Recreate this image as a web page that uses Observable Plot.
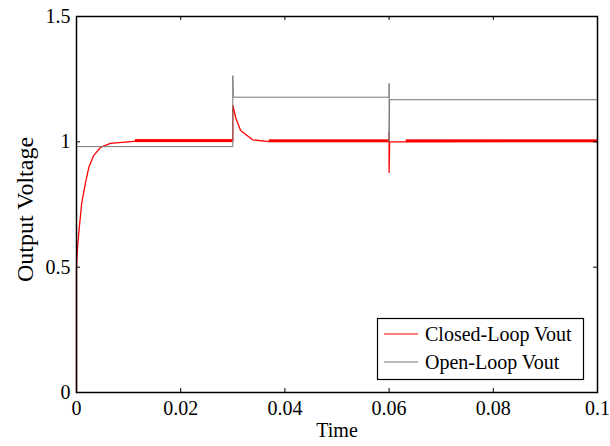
<!DOCTYPE html>
<html>
<head>
<meta charset="utf-8">
<script src="https://cdn.jsdelivr.net/npm/d3@7"></script>
<script src="https://cdn.jsdelivr.net/npm/@observablehq/plot@0.6"></script>
<style>
  html, body { margin: 0; padding: 0; background: white; }
  #chart svg { display: block; }
</style>
</head>
<body>
<div id="chart"></div>
<script>
// Closed-loop Vout (red)
const closedT = [0, 0, 0.0002, 0.0005, 0.001, 0.0017, 0.0024, 0.0033, 0.0046, 0.0065, 0.011, 0.03, 0.03, 0.0306, 0.0315, 0.0338, 0.037, 0.06, 0.06, 0.06, 0.0601, 0.1];
const closedV = [0, 0.5, 0.58, 0.65, 0.755, 0.834, 0.901, 0.945, 0.978, 0.994, 1.002, 1.003, 1.145, 1.093, 1.045, 1.008, 1.001, 1.001, 1.037, 0.878, 1.0, 1.001];
// Open-loop Vout (gray)
const openT = [0, 0, 0.03, 0.03, 0.0301, 0.06, 0.06, 0.06, 0.0601, 0.1];
const openV = [0, 0.981, 0.981, 1.264, 1.178, 1.178, 1.233, 1.0, 1.168, 1.168];
// Switching-ripple bands on the closed-loop trace
const rippleStart = [0.0113, 0.037, 0.0633];
const rippleEnd = [0.03, 0.06, 0.1];
const rippleLow = [0.997, 0.997, 0.997];
const rippleHigh = [1.009, 1.008, 1.008];
// Axes
const xTicks = [0, 0.02, 0.04, 0.06, 0.08, 0.1];
const xTickLabels = ["0", "0.02", "0.04", "0.06", "0.08", "0.1"];
const yTicks = [0, 0.5, 1, 1.5];
const yTickLabels = ["0", "0.5", "1", "1.5"];
const xLabel = "Time";
const yLabel = "Output Voltage";
const seriesNames = ["Closed-Loop Vout", "Open-Loop Vout"];
const seriesColors = ["#ff0000", "#777777"];

const closed = closedT.map((t, i) => ({t, v: closedV[i]}));
const open = openT.map((t, i) => ({t, v: openV[i]}));
const ripple = rippleStart.map((s, i) => ({x1: s, x2: rippleEnd[i], y1: rippleLow[i], y2: rippleHigh[i]}));

const font = "Liberation Serif, 'Times New Roman', serif";
const W = 610, H = 446, mL = 76, mR = 13, mT = 16, mB = 54;
const frameW = W - mL - mR, frameH = H - mT - mB, tickLen = 4;

const plot = Plot.plot({
  width: W,
  height: H,
  marginLeft: mL,
  marginRight: mR,
  marginTop: mT,
  marginBottom: mB,
  style: {fontFamily: font, fontSize: "20px", color: "black", background: "white", overflow: "visible"},
  x: {domain: [0, 0.1]},
  y: {domain: [0, 1.5]},
  marks: [
    Plot.rect(ripple, {x1: "x1", x2: "x2", y1: "y1", y2: "y2", fill: seriesColors[0]}),
    Plot.line(closed, {x: "t", y: "v", stroke: seriesColors[0], strokeWidth: 1.3}),
    Plot.line(open, {x: "t", y: "v", stroke: seriesColors[1], strokeWidth: 1}),
    // inward ticks on all four sides
    Plot.ruleX(xTicks, {x: d => d, insetTop: frameH - tickLen, stroke: "black"}),
    Plot.ruleX(xTicks, {x: d => d, insetBottom: frameH - tickLen, stroke: "black"}),
    Plot.ruleY(yTicks, {y: d => d, insetRight: frameW - tickLen, stroke: "black"}),
    Plot.ruleY(yTicks, {y: d => d, insetLeft: frameW - tickLen, stroke: "black"}),
    Plot.axisX({ticks: xTicks, tickFormat: d => xTickLabels[xTicks.indexOf(d)], tickSize: 0, tickPadding: 8, label: null}),
    Plot.axisY({ticks: yTicks, tickFormat: d => yTickLabels[yTicks.indexOf(d)], tickSize: 0, tickPadding: 6, label: null}),
    Plot.frame({stroke: "black", strokeWidth: 1.5}),
    Plot.text([xLabel], {frameAnchor: "bottom", dy: 44, fontSize: 20, fill: "black", textAnchor: "middle"}),
    Plot.text([yLabel], {frameAnchor: "left", dx: -51, dy: 5, rotate: -90, fontSize: 24, fill: "black", textAnchor: "middle"})
  ]
});

// Legend inside the plot (lower right)
const svg = d3.select(plot);
const lg = svg.append("g").attr("font-family", font).attr("font-size", 20).attr("text-anchor", "start");
lg.append("rect").attr("x", 377.5).attr("y", 318.5).attr("width", 206).attr("height", 61)
  .attr("fill", "white").attr("stroke", "black").attr("stroke-width", 1.2);
const rowsY = [334, 362];
seriesNames.forEach((name, i) => {
  lg.append("line").attr("x1", 384).attr("x2", 418).attr("y1", rowsY[i]).attr("y2", rowsY[i])
    .attr("stroke", seriesColors[i]).attr("stroke-width", 1);
  lg.append("text").attr("x", 425).attr("y", rowsY[i]).attr("dy", "0.35em").attr("fill", "black").text(name);
});

document.getElementById("chart").appendChild(plot);
</script>
</body>
</html>
